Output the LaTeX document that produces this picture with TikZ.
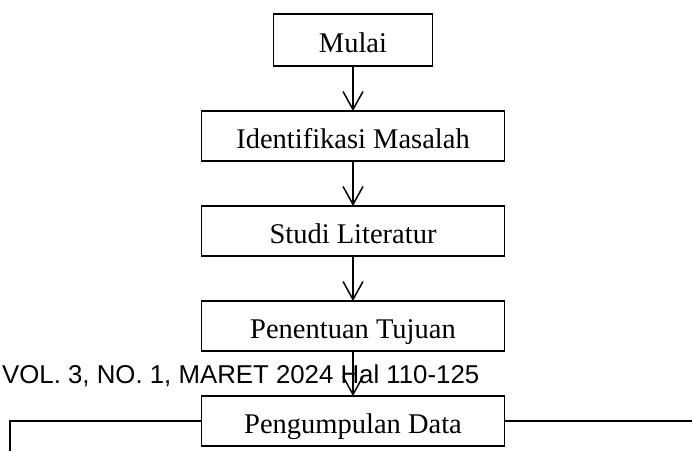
\documentclass[tikz,border=0pt]{standalone}
\usepackage{fontspec}
\setmainfont{Liberation Serif}
\newfontfamily\headfont{Liberation Sans}
\usetikzlibrary{positioning,arrows.meta}

\begin{document}
\begin{tikzpicture}[x=1pt,y=1pt,
    kotak/.style={draw,line width=1.6pt,minimum width=303pt,minimum height=50pt,inner sep=0pt,outer sep=0pt,
      font=\fontsize{28.5}{30}\selectfont,text height=26pt,text depth=2pt},
    panah/.style={line width=1.5pt,-{Straight Barb[length=18pt,width=20pt,line width=1.5pt]}},
    garis/.style={line width=1.6pt},
    node distance=45pt]
        \useasboundingbox (0,0) rectangle (692,451);
        % alur penelitian
        \node[kotak,minimum width=159pt,minimum height=52pt] (mulai) at (353,411) {Mulai};
        \node[kotak,below=of mulai] (identifikasi) {Identifikasi Masalah};
        \node[kotak,below=of identifikasi] (studi) {Studi Literatur};
        \node[kotak,below=of studi] (tujuan) {Penentuan Tujuan};
        \node[kotak,below=of tujuan] (data) {Pengumpulan Data};
        \draw[panah] (mulai) -- (identifikasi);
        \draw[panah] (identifikasi) -- (studi);
        \draw[panah] (studi) -- (tujuan);
        \draw[panah] (tujuan) -- (data);
        % cabang ke kiri dan ke kanan
        \coordinate (ujungkiri) at (10,0);
        \coordinate (ujungkanan) at (692,0);
        \draw[garis] (data.west) -| (ujungkiri);
        \draw[garis] (data.east) -- (data.east -| ujungkanan);
        % kepala halaman
        \node[font=\headfont\fontsize{25.8}{30}\selectfont,anchor=base west,inner sep=0pt] (kepala) at (2,68) {VOL. 3, NO. 1, MARET 2024 Hal 110-125};
      \end{tikzpicture}
\end{document}
